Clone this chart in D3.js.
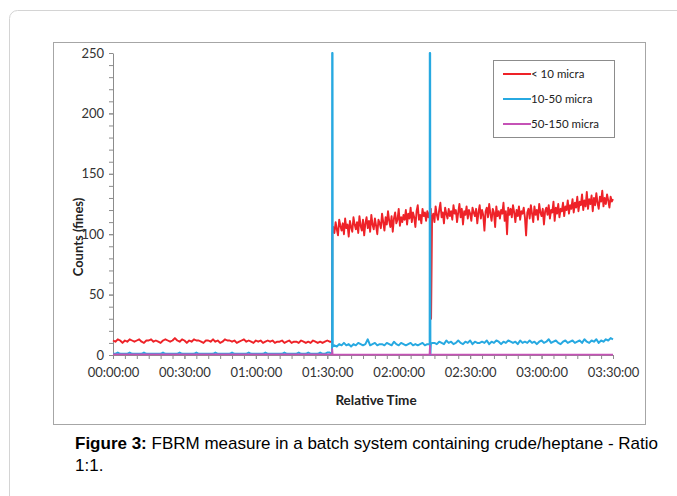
<!DOCTYPE html>
<html>
<head>
<meta charset="utf-8">
<script src="https://cdn.jsdelivr.net/npm/d3@7"></script>
<style>
  body { margin: 0; background: #fff; }
  svg { display: block; }
  .tick text { font-family: Lato, "Open Sans", sans-serif; fill: #333; }
</style>
</head>
<body>
<div id="chart"></div>
<script>
// series names, colours
const seriesNames = ["< 10 micra", "10-50 micra", "50-150 micra"];
const seriesColors = ["#ee2228", "#27a9e1", "#c552b6"];

// < 10 micra: one value per minute from 0 to 91 min
const finesEarly = [
  12,11,13,12,10,12,11,13,12,11,12,13,11,10,12,12,13,11,12,11,
  10,12,13,12,11,12,14,12,11,13,12,10,12,11,13,12,12,11,10,12,
  12,11,13,11,12,10,11,13,12,12,11,12,10,11,12,13,11,12,11,10,
  12,11,12,10,11,12,11,12,10,11,11,12,10,11,12,10,11,11,10,12,
  11,10,11,10,12,11,10,11,10,11,12,11
];
// < 10 micra: one value per half minute from 92.5 to 210 min
const finesLate = [
  106,101,110,104,99,112,107,103,109,100,113,105,108,98,111,106,102,114,108,104,
  110,101,115,107,103,112,99,109,114,105,111,102,116,108,104,113,107,100,112,109,
  105,117,110,103,114,108,119,111,106,115,102,113,118,109,112,121,107,114,110,116,
  112,120,108,117,113,122,110,118,114,106,119,124,112,116,109,121,115,118,111,119,
  114,118,121,113,117,110,123,116,112,120,126,114,118,109,122,117,113,121,115,119,
  112,124,117,120,110,118,125,114,121,108,119,116,123,113,120,117,111,122,118,115,
  121,109,118,124,113,120,116,103,119,122,114,125,117,111,121,118,106,123,115,119,
  113,120,117,126,111,119,100,122,116,121,114,124,118,110,120,115,123,112,119,117,
  122,114,99,118,121,113,124,117,110,123,116,120,112,125,118,115,121,108,119,122,
  116,124,113,120,118,127,111,122,117,125,114,121,119,126,115,123,120,128,117,124,
  121,129,118,126,122,131,119,127,124,133,120,128,123,135,121,129,125,132,119,130,
  124,134,126,121,131,127,136,123,130,125,133,128,122,131,127,129
];
// jump and dip of < 10 micra: [minute, count]
const finesEvents = [[92, 11], [92.1, 100], [133.6, 30]];

// 10-50 micra: one value per minute, 0..210 min
const medium = [
  1,1,2,1,1,1,1,2,1,1,1,1,1,2,1,1,1,1,1,1,
  1,2,1,1,1,1,1,1,2,1,1,1,1,1,1,2,1,1,1,1,
  1,1,1,2,1,1,1,1,1,1,2,1,1,1,1,1,1,2,1,1,
  1,1,1,1,2,1,1,1,1,1,1,1,2,1,1,1,1,1,2,1,
  1,1,2,1,1,1,1,2,1,1,2,2,
  1,
  8,7,9,8,10,8,9,7,9,8,10,9,8,9,13,8,9,10,8,9,
  9,8,10,9,8,11,9,8,10,9,8,9,10,8,9,8,9,10,8,9,
  9,
  10,
  10,9,11,10,9,12,10,11,9,10,12,10,9,11,10,12,9,11,10,10,
  11,10,12,9,11,10,12,11,9,11,10,12,11,10,11,9,12,10,11,10,
  12,10,11,9,11,12,10,11,13,10,11,12,10,9,11,12,10,11,12,10,
  11,12,10,13,11,10,12,11,13,10,12,11,13,12,14,13
];
// spikes of 10-50 micra: [minute, count]
const mediumEvents = [
  [92.05, 250], [92.2, 250], [92.3, 7],
  [133.05, 250], [133.2, 250], [133.3, 0], [133.5, 9]
];

// 50-150 micra: [minute, count]
const coarse = [[0,0.5],[91.9,0.5],[92.1,5],[92.3,0.3],[132.9,0.3],[133.1,8],[133.3,0.3],[210,0.3]];

const xTicks = [0, 30, 60, 90, 120, 150, 180, 210];
const yTicks = [0, 50, 100, 150, 200, 250];

const W = 677, H = 496;
const svg = d3.select("#chart").append("svg").attr("width", W).attr("height", H);

// card
svg.append("rect")
  .attr("x", 9.5).attr("y", 10.5).attr("width", 720).attr("height", 540)
  .attr("rx", 8).attr("fill", "#fff").attr("stroke", "#d4d4d4");

// chart frame
svg.append("rect")
  .attr("x", 53.5).attr("y", 42.5).attr("width", 592).attr("height", 382)
  .attr("fill", "#fff").attr("stroke", "#a6a6a6");

const x = d3.scaleLinear().domain([0, 210]).range([113, 613]);
const y = d3.scaleLinear().domain([0, 250]).range([355, 53]);

const fmt = m => {
  const h = Math.floor(m / 60), mm = m % 60;
  return String(h).padStart(2, "0") + ":" + String(mm).padStart(2, "0") + ":00";
};

// minor ticks
svg.append("g").attr("transform", "translate(0,355)")
  .call(d3.axisBottom(x).tickValues(d3.range(0, 211, 5)).tickFormat("").tickSize(4).tickSizeOuter(0))
  .call(g => g.select(".domain").remove());
svg.append("g").attr("transform", "translate(113,0)")
  .call(d3.axisLeft(y).tickValues(d3.range(0, 251, 10)).tickFormat("").tickSize(4).tickSizeOuter(0))
  .call(g => g.select(".domain").remove());

const xAxis = svg.append("g").attr("transform", "translate(0,355)")
  .call(d3.axisBottom(x).tickValues(xTicks).tickFormat(fmt).tickSize(4).tickSizeOuter(0).tickPadding(9));
xAxis.selectAll("text").style("font-size", "13px");

const yAxis = svg.append("g").attr("transform", "translate(113,0)")
  .call(d3.axisLeft(y).tickValues(yTicks).tickSize(4).tickSizeOuter(0).tickPadding(5));
yAxis.selectAll("text").style("font-size", "13px");

svg.selectAll(".domain, .tick line").attr("stroke", "#8c8c8c");

// build point lists
const byTime = (a, b) => a[0] - b[0];
const finesPts = finesEarly.map((v, i) => [i, v])
  .concat(finesLate.map((v, i) => [92.5 + i * 0.5, v]))
  .concat(finesEvents).sort(byTime);
const mediumPts = medium.map((v, i) => [i, v]).concat(mediumEvents).sort(byTime);

const line = d3.line().x(d => x(d[0])).y(d => y(d[1]));
const data = [finesPts, mediumPts, coarse];
const widths = [1.9, 2, 1.6];
data.forEach((d, i) => {
  svg.append("path").datum(d)
    .attr("d", line)
    .attr("fill", "none")
    .attr("stroke", seriesColors[i])
    .attr("stroke-width", widths[i])
    .attr("stroke-linejoin", "round");
});

// axis titles
svg.append("text")
  .attr("transform", "translate(83,237) rotate(-90)")
  .attr("text-anchor", "middle")
  .style("font-family", "Lato, sans-serif").style("font-weight", "bold").style("font-size", "13px")
  .attr("fill", "#222")
  .text("Counts (fines)");

svg.append("text")
  .attr("x", 376).attr("y", 405)
  .attr("text-anchor", "middle")
  .style("font-family", "Lato, sans-serif").style("font-weight", "bold").style("font-size", "13.5px")
  .attr("fill", "#222")
  .text("Relative Time");

// legend
const legend = svg.append("g");
legend.append("rect")
  .attr("x", 493.5).attr("y", 60.5).attr("width", 121).attr("height", 77)
  .attr("fill", "#fff").attr("stroke", "#8c8c8c");
seriesNames.forEach((name, i) => {
  const ly = 74 + i * 25;
  legend.append("line")
    .attr("x1", 503).attr("x2", 531).attr("y1", ly).attr("y2", ly)
    .attr("stroke", seriesColors[i]).attr("stroke-width", 2);
  legend.append("text")
    .attr("x", 531).attr("y", ly + 4)
    .style("font-family", "Lato, sans-serif").style("font-size", "11.5px")
    .attr("fill", "#222")
    .text(name);
});

// caption
const cap = svg.append("text")
  .attr("x", 75).attr("y", 449)
  .style("font-family", "'Liberation Sans', Arial, sans-serif").style("font-size", "17px")
  .attr("fill", "#000");
cap.append("tspan").style("font-weight", "bold").text("Figure 3:");
cap.append("tspan").text(" FBRM measure in a batch system containing crude/heptane - Ratio");
svg.append("text")
  .attr("x", 75).attr("y", 471)
  .style("font-family", "'Liberation Sans', Arial, sans-serif").style("font-size", "17px")
  .attr("fill", "#000")
  .text("1:1.");
</script>
</body>
</html>
